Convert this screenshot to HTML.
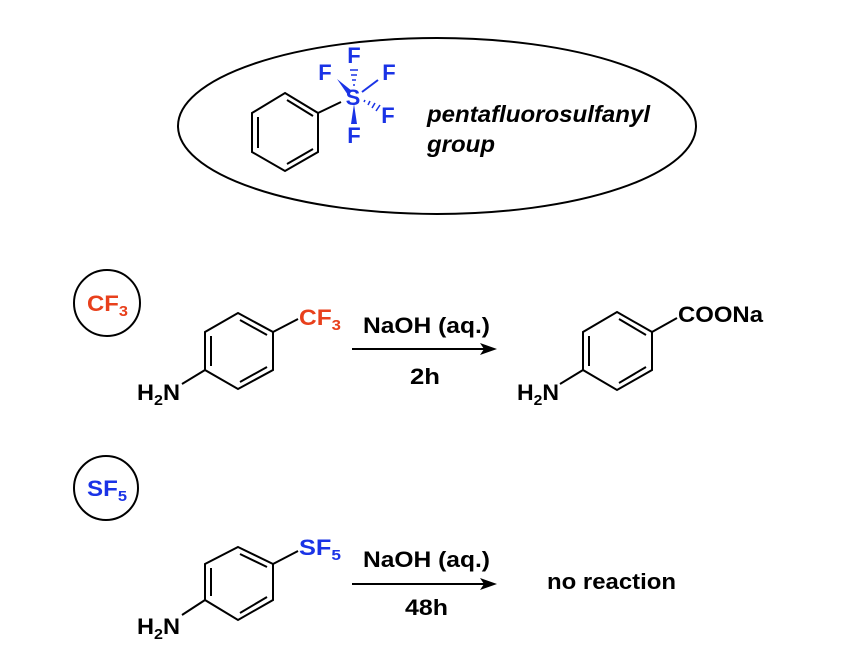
<!DOCTYPE html>
<html><head><style>
html,body{margin:0;padding:0;background:#fff;}
svg{display:block;}
text{font-family:"Liberation Sans",Arial,sans-serif;font-weight:bold;}
</style></head><body>
<svg width="848" height="662" viewBox="0 0 848 662" xmlns="http://www.w3.org/2000/svg">
<g fill="none" stroke="#000" stroke-width="2">
<ellipse cx="437" cy="126" rx="259" ry="88"/>
<polygon points="285,93 318,113 318,152 285,171 252,152 252,113"/>
<line x1="258" y1="117" x2="258" y2="148"/>
<line x1="287" y1="100" x2="313" y2="116"/>
<line x1="287" y1="164" x2="313" y2="149"/>
<line x1="318" y1="113" x2="341" y2="102"/>
<polygon points="238,313 273,332 273,370 238,389 205,370 205,332"/>
<line x1="211" y1="336" x2="211" y2="366"/>
<line x1="240" y1="320" x2="267" y2="335"/>
<line x1="240" y1="382" x2="267" y2="367"/>
<line x1="273" y1="332" x2="298" y2="319"/>
<line x1="182" y1="384" x2="205" y2="370"/>
<polygon points="617,312 652,332 652,370 617,390 583,370 583,332"/>
<line x1="589" y1="336" x2="589" y2="366"/>
<line x1="619" y1="319" x2="646" y2="335"/>
<line x1="619" y1="383" x2="646" y2="367"/>
<line x1="652" y1="332" x2="677" y2="318"/>
<line x1="560" y1="384" x2="583" y2="370"/>
<polygon points="238,547 273,564 273,600 238,620 205,600 205,564"/>
<line x1="211" y1="568" x2="211" y2="596"/>
<line x1="240" y1="554" x2="267" y2="567"/>
<line x1="240" y1="613" x2="267" y2="597"/>
<line x1="273" y1="564" x2="298" y2="551"/>
<line x1="182" y1="615" x2="205" y2="600"/>
<line x1="352" y1="349" x2="485" y2="349"/>
<line x1="352" y1="584" x2="485" y2="584"/>
<circle cx="107" cy="303" r="33"/>
<circle cx="106" cy="488" r="32"/>
</g>
<polygon points="497,349 480,343 484,349 480,355" fill="#000"/>
<polygon points="497,584 480,578 484,584 480,590" fill="#000"/>
<g stroke="#1a33e6" stroke-width="2" fill="#1a33e6">
<polygon points="337,79 352,91 348,95" stroke="none"/>
<polygon points="354,104 351,124 357,124" stroke="none"/>
<line x1="362" y1="92" x2="378" y2="80"/>
<line x1="350" y1="70" x2="358" y2="70" stroke-width="1.5"/>
<line x1="351" y1="75" x2="357" y2="75" stroke-width="1.5"/>
<line x1="352" y1="80" x2="356" y2="80" stroke-width="1.5"/>
<line x1="353" y1="85" x2="355" y2="85" stroke-width="1.5"/>
<line x1="364" y1="102" x2="365" y2="100" stroke-width="1.5"/>
<line x1="368" y1="105" x2="370" y2="101" stroke-width="1.5"/>
<line x1="372" y1="108" x2="375" y2="103" stroke-width="1.5"/>
<line x1="376" y1="111" x2="380" y2="105" stroke-width="1.5"/>
</g>
<g fill="#1a33e6" font-size="22">
<text x="354" y="63" text-anchor="middle">F</text>
<text x="325" y="80" text-anchor="middle">F</text>
<text x="389" y="80" text-anchor="middle">F</text>
<text x="353" y="105" text-anchor="middle">S</text>
<text x="388" y="123" text-anchor="middle">F</text>
<text x="354" y="143" text-anchor="middle">F</text>
</g>
<g font-size="23" font-style="italic">
<text x="427" y="122" textLength="223" lengthAdjust="spacingAndGlyphs">pentafluorosulfanyl</text>
<text x="427" y="152" textLength="68" lengthAdjust="spacingAndGlyphs">group</text>
</g>
<text x="87" y="311" font-size="22" fill="#e8401c" textLength="41" lengthAdjust="spacingAndGlyphs">CF<tspan font-size="15" dy="5">3</tspan></text>
<text x="87" y="496" font-size="22" fill="#1a33e6" textLength="40" lengthAdjust="spacingAndGlyphs">SF<tspan font-size="15" dy="5">5</tspan></text>
<text x="299" y="325" font-size="22" fill="#e8401c" textLength="42" lengthAdjust="spacingAndGlyphs">CF<tspan font-size="15" dy="5">3</tspan></text>
<text x="299" y="555" font-size="22" fill="#1a33e6" textLength="42" lengthAdjust="spacingAndGlyphs">SF<tspan font-size="15" dy="5">5</tspan></text>
<g font-size="22" fill="#000">
<text x="137" y="400" textLength="43" lengthAdjust="spacingAndGlyphs">H<tspan font-size="15" dy="5">2</tspan><tspan dy="-5">N</tspan></text>
<text x="137" y="634" textLength="43" lengthAdjust="spacingAndGlyphs">H<tspan font-size="15" dy="5">2</tspan><tspan dy="-5">N</tspan></text>
<text x="517" y="400" textLength="42" lengthAdjust="spacingAndGlyphs">H<tspan font-size="15" dy="5">2</tspan><tspan dy="-5">N</tspan></text>
<text x="678" y="322" textLength="85" lengthAdjust="spacingAndGlyphs">COONa</text>
<text x="363" y="333" textLength="127" lengthAdjust="spacingAndGlyphs">NaOH (aq.)</text>
<text x="410" y="384" textLength="30" lengthAdjust="spacingAndGlyphs">2h</text>
<text x="363" y="567" textLength="127" lengthAdjust="spacingAndGlyphs">NaOH (aq.)</text>
<text x="405" y="615" textLength="43" lengthAdjust="spacingAndGlyphs">48h</text>
<text x="547" y="589" textLength="129" lengthAdjust="spacingAndGlyphs">no reaction</text>
</g>
</svg>
</body></html>
